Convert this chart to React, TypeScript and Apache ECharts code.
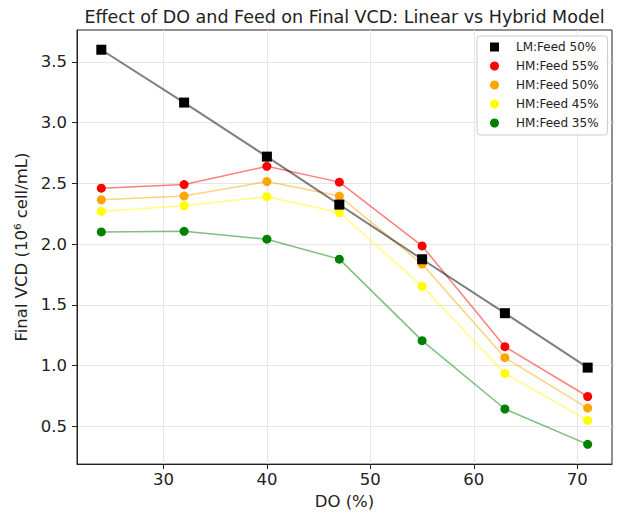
import React, { useEffect, useRef } from "react";
import * as echarts from "echarts";

const doValues = [24, 32, 40, 47, 55, 63, 71];
const lmFeed50 = [3.6, 3.165, 2.72, 2.325, 1.875, 1.431, 0.983];
const hmFeed55 = [2.46, 2.49, 2.64, 2.51, 1.985, 1.155, 0.745];
const hmFeed50 = [2.365, 2.395, 2.515, 2.395, 1.835, 1.065, 0.65];
const hmFeed45 = [2.27, 2.315, 2.39, 2.26, 1.652, 0.935, 0.548];
const hmFeed35 = [2.1, 2.105, 2.04, 1.876, 1.205, 0.642, 0.351];

const xTicks = [30, 40, 50, 60, 70];
const yTicks = [0.5, 1.0, 1.5, 2.0, 2.5, 3.0, 3.5];

const seriesNames = ["LM:Feed 50%", "HM:Feed 55%", "HM:Feed 50%", "HM:Feed 45%", "HM:Feed 35%"];
const seriesColors = ["#000000", "#ff0000", "#ffa500", "#ffff00", "#008000"];
const seriesValues = [lmFeed50, hmFeed55, hmFeed50, hmFeed45, hmFeed35];

const FONT = "DejaVu Sans";

export default function App() {
  const ref = useRef<HTMLDivElement>(null);
  useEffect(() => {
    if (!ref.current) return;
    const chart = echarts.init(ref.current, null, { renderer: "svg" });
    const allY = seriesValues.flat();
    const yMinD = Math.min(...allY);
    const yMaxD = Math.max(...allY);
    const yPad = (yMaxD - yMinD) * 0.05;
    const xMinD = Math.min(...doValues);
    const xMaxD = Math.max(...doValues);
    const xPad = (xMaxD - xMinD) * 0.05;

    const series = seriesNames.map((name, si) => {
      const isLM = si === 0;
      return {
        name,
        type: "line",
        data: doValues.map((x, i) => [x, seriesValues[si][i]]),
        symbol: isLM ? "rect" : "circle",
        symbolSize: isLM ? 10 : 9,
        z: isLM ? 5 : 3,
        itemStyle: { color: seriesColors[si], opacity: 1 },
        lineStyle: {
          color: isLM ? "#000000" : seriesColors[si],
          opacity: 0.5,
          width: isLM ? 2 : 1.5,
        },
        emphasis: { disabled: true },
      };
    });

    chart.setOption({
      animation: false,
      backgroundColor: "#ffffff",
      textStyle: { fontFamily: FONT },
      graphic: [
        {
          type: "text",
          x: 344.5,
          y: 17,
          style: {
            text: "Effect of DO and Feed on Final VCD: Linear vs Hybrid Model",
            fontFamily: FONT,
            fontSize: 17.5,
            fill: "#222222",
            textAlign: "center",
            textVerticalAlign: "middle",
          },
        },
      ],
      grid: {
        left: 77,
        right: 6,
        top: 30,
        bottom: 49,
        show: true,
        borderColor: "#222222",
        borderWidth: 1,
        backgroundColor: "transparent",
      },
      legend: {
        orient: "vertical",
        left: 477,
        top: 36,
        padding: [4, 9, 5, 13],
        itemWidth: 9,
        itemHeight: 9,
        itemGap: 5,
        backgroundColor: "rgba(255,255,255,0.8)",
        borderColor: "#cccccc",
        borderWidth: 1,
        borderRadius: 3,
        textStyle: {
          fontFamily: FONT,
          fontSize: 12,
          color: "#222222",
          lineHeight: 14,
          padding: [0, 0, 0, 12],
        },
        data: seriesNames.map((n, i) => ({ name: n, icon: i === 0 ? "rect" : "circle" })),
      },
      xAxis: {
        type: "value",
        min: xMinD - xPad,
        max: xMaxD + xPad,
        name: "DO (%)",
        nameLocation: "middle",
        nameGap: 28,
        nameTextStyle: { fontFamily: FONT, fontSize: 16.5, color: "#222222" },
        axisLine: { show: true, lineStyle: { color: "#222222", width: 1 } },
        axisTick: { show: true, length: 5, customValues: xTicks, lineStyle: { color: "#222222" } },
        axisLabel: {
          customValues: xTicks,
          fontFamily: FONT,
          fontSize: 16.5,
          color: "#222222",
          margin: 7,
        },
        splitLine: { show: true, lineStyle: { color: "#e6e6e6", width: 1 } },
      },
      yAxis: {
        type: "value",
        min: yMinD - yPad,
        max: yMaxD + yPad,
        name: "Final VCD (10\u2076 cell/mL)",
        nameLocation: "middle",
        nameGap: 42,
        nameTextStyle: { fontFamily: FONT, fontSize: 16.5, color: "#222222" },
        axisLine: { show: true, lineStyle: { color: "#222222", width: 1 } },
        axisTick: { show: true, length: 5, customValues: yTicks, lineStyle: { color: "#222222" } },
        axisLabel: {
          customValues: yTicks,
          fontFamily: FONT,
          fontSize: 16.5,
          color: "#222222",
          margin: 10,
          formatter: (v: number) => v.toFixed(1),
        },
        splitLine: { show: true, lineStyle: { color: "#e6e6e6", width: 1 } },
      },
      series,
    });
    return () => chart.dispose();
  }, []);
  return (
    <div
      ref={ref}
      style={{ position: "absolute", left: 0, top: 0, width: 618, height: 515, background: "#fff" }}
    />
  );
}
